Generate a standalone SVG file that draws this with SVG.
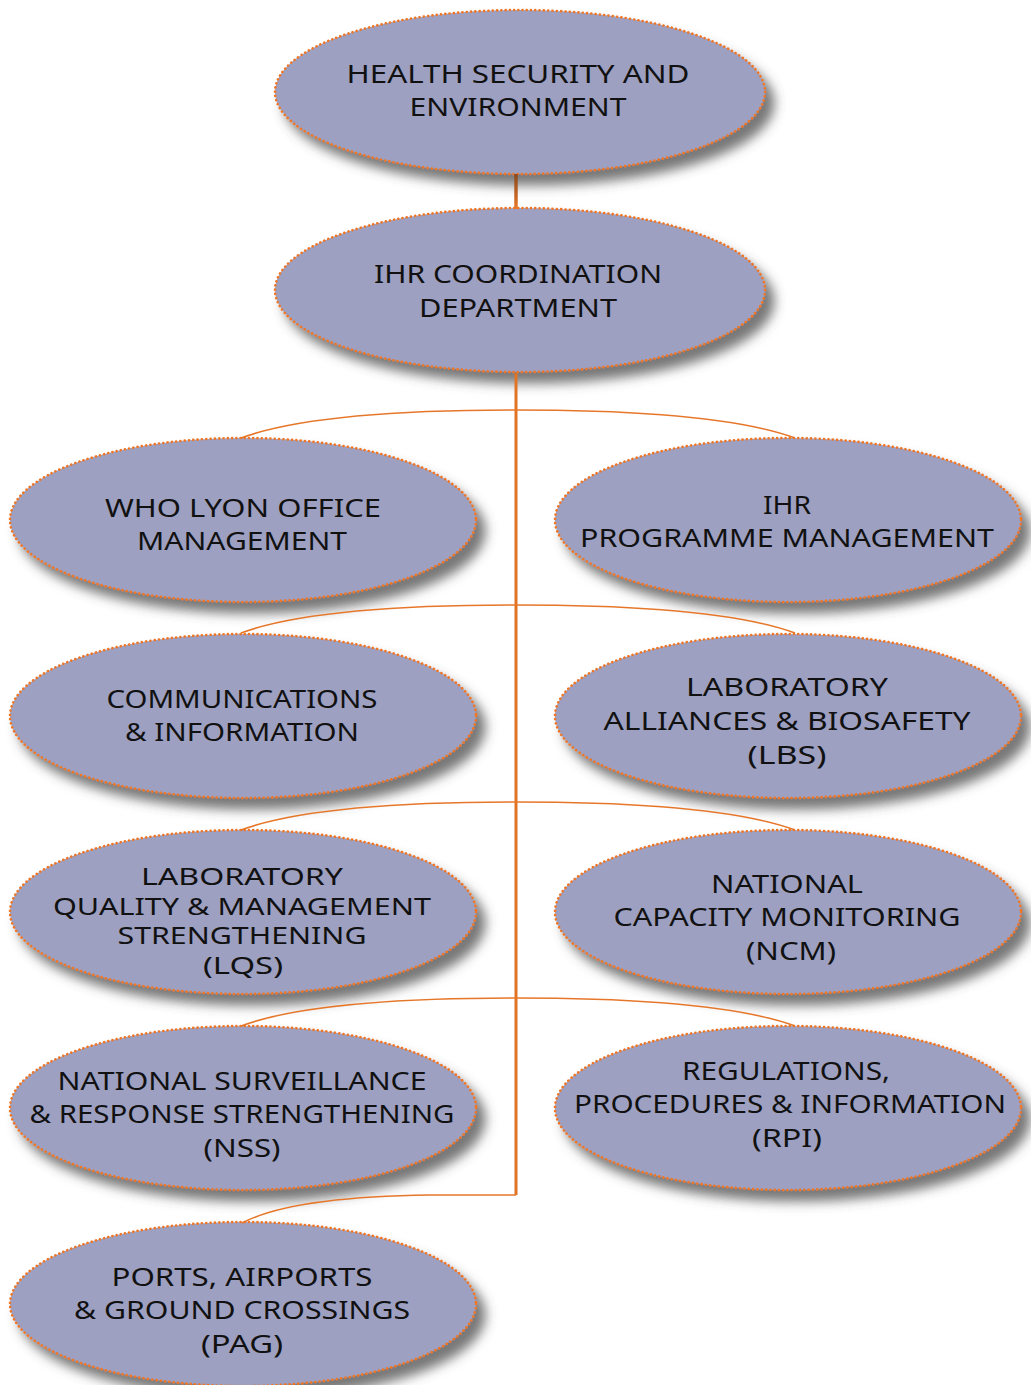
<svg xmlns="http://www.w3.org/2000/svg" width="1031" height="1385" viewBox="0 0 1031 1385">
<defs>
<filter id="sh" x="-10%" y="-15%" width="125%" height="140%">
<feDropShadow dx="9" dy="11" stdDeviation="6" flood-color="#4a4a4a" flood-opacity="0.75"/>
</filter>
<linearGradient id="lg" gradientUnits="userSpaceOnUse" x1="0" y1="175" x2="0" y2="208">
<stop offset="0" stop-color="#8a4a1e"/>
<stop offset="1" stop-color="#e8782a"/>
</linearGradient>
</defs>
<style>
.n ellipse{fill:#9da0c1;stroke:#ee7626;stroke-width:2.6;stroke-dasharray:0.1 4.2;stroke-linecap:round;filter:url(#sh)}
.n text{font-family:"Noto Sans","Open Sans","DejaVu Sans",sans-serif;font-size:25px;fill:#111;text-anchor:middle}
.n text.s{font-size:23px}
.c path{fill:none;stroke:#e6772a;stroke-width:1.6}
</style>
<rect width="1031" height="1385" fill="#ffffff"/>
<g id="n-hse" class="n"><ellipse cx="520" cy="92" rx="245" ry="82"/>
<text x="518" y="83" textLength="343" lengthAdjust="spacingAndGlyphs">HEALTH SECURITY AND</text>
<text x="518" y="116" textLength="217" lengthAdjust="spacingAndGlyphs">ENVIRONMENT</text></g>
<g id="n-ihr" class="n"><ellipse cx="520" cy="290" rx="245" ry="82"/>
<text x="518" y="283" textLength="288" lengthAdjust="spacingAndGlyphs">IHR COORDINATION</text>
<text x="518" y="317" textLength="198" lengthAdjust="spacingAndGlyphs">DEPARTMENT</text></g>
<g id="n-lyon" class="n"><ellipse cx="243" cy="520" rx="233" ry="82"/>
<text x="243" y="517" textLength="276" lengthAdjust="spacingAndGlyphs">WHO LYON OFFICE</text>
<text x="242" y="550" textLength="210" lengthAdjust="spacingAndGlyphs">MANAGEMENT</text></g>
<g id="n-prog" class="n"><ellipse cx="788" cy="520" rx="233" ry="82"/>
<text x="787" y="514" textLength="48" lengthAdjust="spacingAndGlyphs">IHR</text>
<text x="787" y="547" textLength="414" lengthAdjust="spacingAndGlyphs">PROGRAMME MANAGEMENT</text></g>
<g id="n-comm" class="n"><ellipse cx="243" cy="716" rx="233" ry="82"/>
<text x="242" y="708" textLength="271" lengthAdjust="spacingAndGlyphs">COMMUNICATIONS</text>
<text x="242" y="741" textLength="234" lengthAdjust="spacingAndGlyphs">&amp; INFORMATION</text></g>
<g id="n-lbs" class="n"><ellipse cx="788" cy="716" rx="233" ry="82"/>
<text x="787" y="696" textLength="202" lengthAdjust="spacingAndGlyphs">LABORATORY</text>
<text x="787" y="730" textLength="367" lengthAdjust="spacingAndGlyphs">ALLIANCES &amp; BIOSAFETY</text>
<text x="787" y="764" textLength="79" lengthAdjust="spacingAndGlyphs">(LBS)</text></g>
<g id="n-lqs" class="n"><ellipse cx="243" cy="912" rx="233" ry="82"/>
<text class="s" x="242" y="885" textLength="202" lengthAdjust="spacingAndGlyphs">LABORATORY</text>
<text class="s" x="242" y="915" textLength="378" lengthAdjust="spacingAndGlyphs">QUALITY &amp; MANAGEMENT</text>
<text class="s" x="242" y="944" textLength="249" lengthAdjust="spacingAndGlyphs">STRENGTHENING</text>
<text class="s" x="243" y="974" textLength="80" lengthAdjust="spacingAndGlyphs">(LQS)</text></g>
<g id="n-ncm" class="n"><ellipse cx="788" cy="912" rx="233" ry="82"/>
<text x="787" y="893" textLength="152" lengthAdjust="spacingAndGlyphs">NATIONAL</text>
<text x="787" y="926" textLength="347" lengthAdjust="spacingAndGlyphs">CAPACITY MONITORING</text>
<text x="791" y="960" textLength="90" lengthAdjust="spacingAndGlyphs">(NCM)</text></g>
<g id="n-nss" class="n"><ellipse cx="243" cy="1108" rx="233" ry="82"/>
<text x="242" y="1090" textLength="369" lengthAdjust="spacingAndGlyphs">NATIONAL SURVEILLANCE</text>
<text x="242" y="1123" textLength="425" lengthAdjust="spacingAndGlyphs">&amp; RESPONSE STRENGTHENING</text>
<text x="242" y="1157" textLength="77" lengthAdjust="spacingAndGlyphs">(NSS)</text></g>
<g id="n-rpi" class="n"><ellipse cx="788" cy="1108" rx="233" ry="82"/>
<text x="786" y="1080" textLength="208" lengthAdjust="spacingAndGlyphs">REGULATIONS,</text>
<text x="790" y="1113" textLength="432" lengthAdjust="spacingAndGlyphs">PROCEDURES &amp; INFORMATION</text>
<text x="787" y="1147" textLength="70" lengthAdjust="spacingAndGlyphs">(RPI)</text></g>
<g id="n-pag" class="n"><ellipse cx="243" cy="1304" rx="233" ry="82"/>
<text x="242" y="1286" textLength="261" lengthAdjust="spacingAndGlyphs">PORTS, AIRPORTS</text>
<text x="242" y="1319" textLength="336" lengthAdjust="spacingAndGlyphs">&amp; GROUND CROSSINGS</text>
<text x="242" y="1353" textLength="82" lengthAdjust="spacingAndGlyphs">(PAG)</text></g>
<g id="connectors" class="c">
<path d="M516,174 V209" style="stroke:url(#lg);stroke-width:3.5"/>
<path d="M516,373 V1195" style="stroke:#e27323;stroke-width:3"/>
<path d="M516,410 C410,410 300,416 241,438"/>
<path d="M516,410 C622,410 735,416 795,438"/>
<path d="M516,605 C410,605 300,611 241,633"/>
<path d="M516,605 C622,605 735,611 795,633"/>
<path d="M516,802 C410,802 300,808 241,830"/>
<path d="M516,802 C622,802 735,808 795,830"/>
<path d="M516,998 C410,998 300,1004 241,1026"/>
<path d="M516,998 C622,998 735,1004 795,1026"/>
<path d="M516,1195 H430 C350,1196 280,1203 242,1223"/>
</g>
</svg>
